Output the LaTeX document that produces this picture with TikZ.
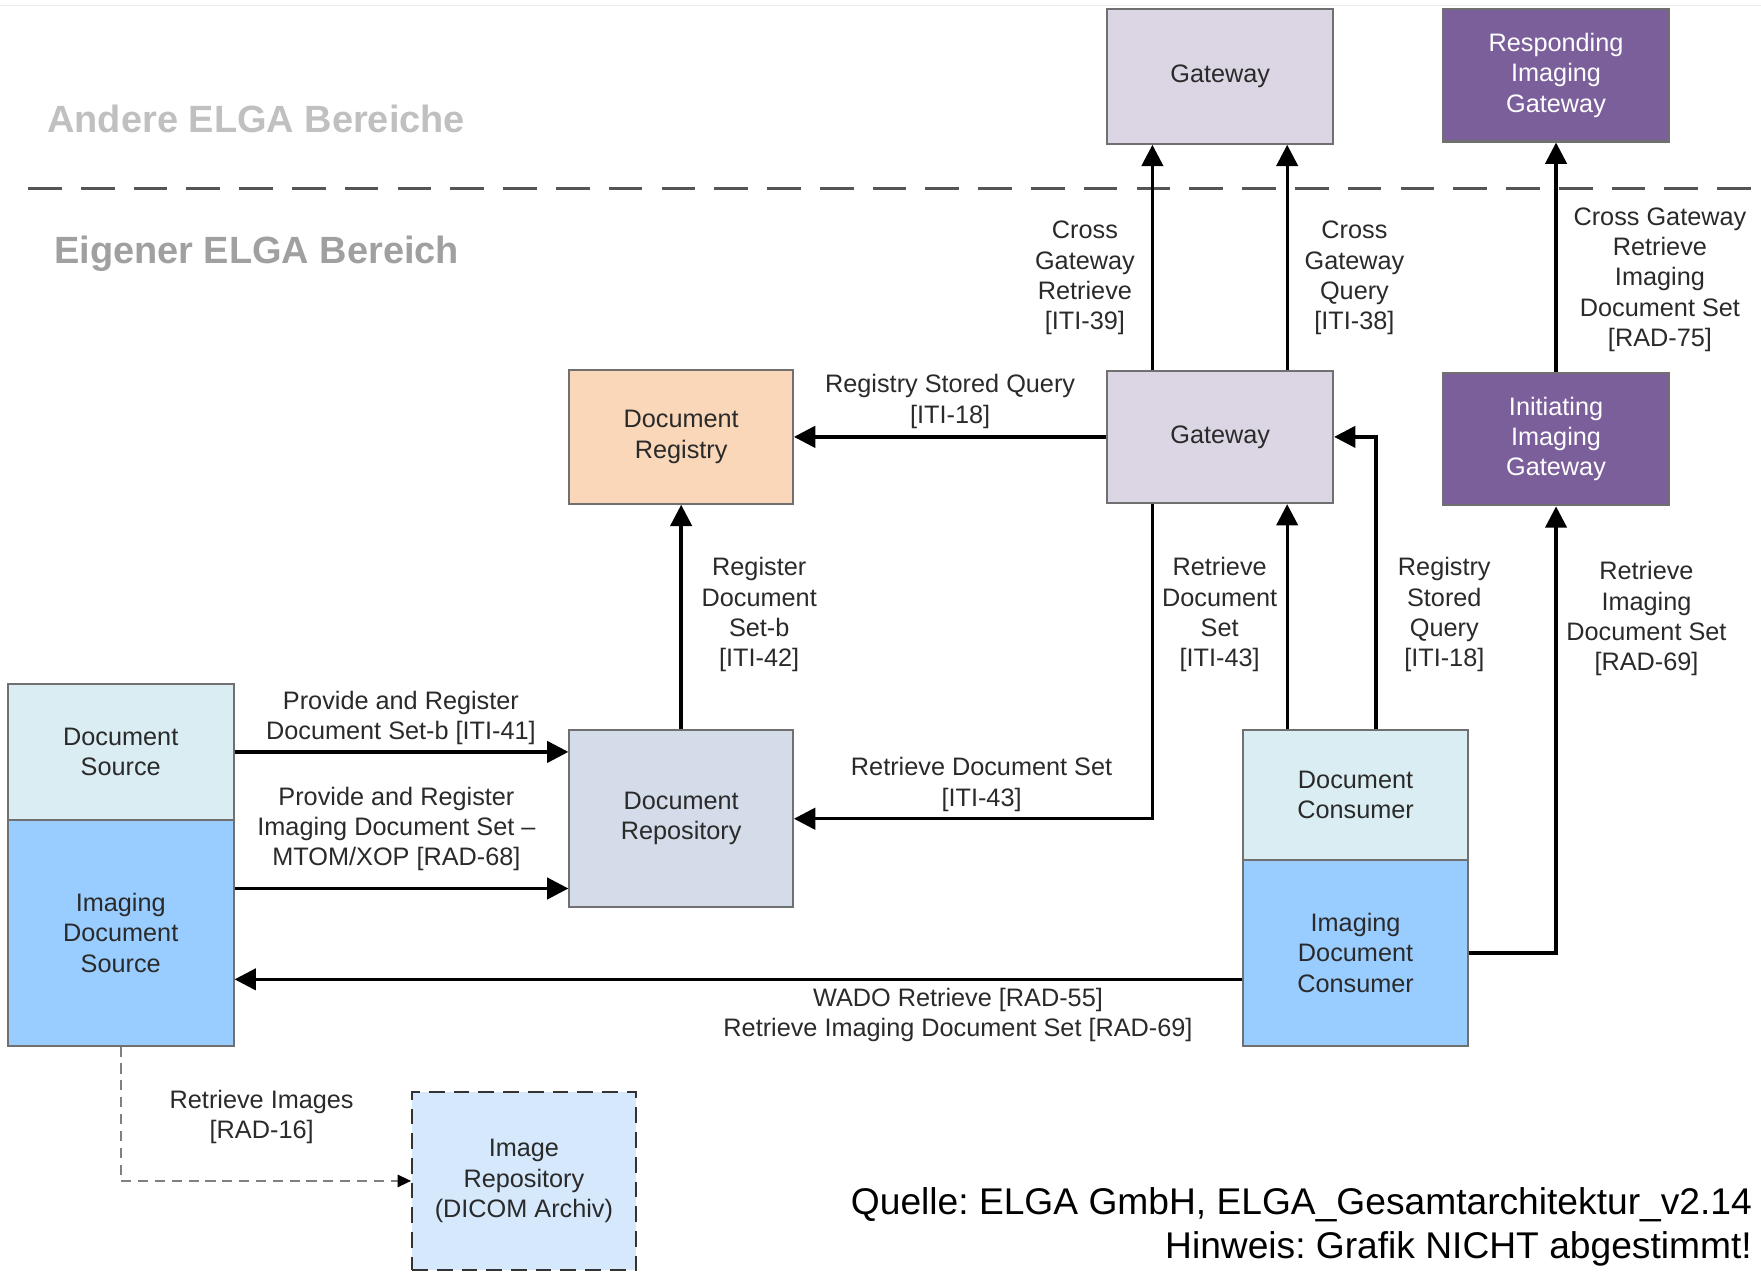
\documentclass[tikz,border=0pt]{standalone}
\usepackage{fontspec}
\setmainfont{Liberation Sans}
\usetikzlibrary{arrows.meta}
\frenchspacing
\definecolor{gwfill}{HTML}{DCD6E4}
\definecolor{purp}{HTML}{7B5F9B}
\definecolor{regfill}{HTML}{FAD7B9}
\definecolor{repofill}{HTML}{D3DCE8}
\definecolor{lightblue}{HTML}{DAEDF2}
\definecolor{midblue}{HTML}{99CCFF}
\definecolor{irfill}{HTML}{D5E8FC}
\definecolor{boxline}{HTML}{707070}
\definecolor{txt}{HTML}{2A2A2A}
\definecolor{hdrA}{HTML}{C0C0C0}
\definecolor{hdrB}{HTML}{A0A0A0}
\definecolor{sepline}{HTML}{555555}
\begin{document}
\begin{tikzpicture}[x=1pt,y=-1pt,
  box/.style={draw=boxline, line width=1.8pt, inner sep=0pt, align=center,
    font=\fontsize{22.5}{27}\selectfont, text=txt},
  pbox/.style={box, fill=purp, text=white},
  lbl/.style={align=center, font=\fontsize{22.5}{27}\selectfont, text=txt, inner sep=0pt},
  hdr/.style={anchor=west, inner sep=0pt, font=\fontsize{33.8}{38}\selectfont\bfseries},
  foot/.style={anchor=east, inner sep=0pt, font=\fontsize{33.1}{38}\selectfont, text=black},
  arr/.style={line width=3pt, -{Triangle[length=19pt,width=19pt]}},
  darr/.style={line width=1.5pt, draw=gray, dash pattern=on 9pt off 6pt,
    -{Triangle[length=12pt,width=11pt,fill=black,color=black]}},
]
\useasboundingbox (0,0) rectangle (1568,1132);

% separators
\coordinate (topL) at (0,5);
\coordinate (topR) at (1568,5);
\draw[line width=1.5pt, color=black!8] (topL) -- (topR);
\coordinate (sepL) at (25,168);
\coordinate (sepR) at (1568,168);
\draw[line width=2.5pt, color=sepline, dash pattern=on 30pt off 17pt] (sepL) -- (sepR);

% headers
\node[hdr, text=hdrA] (hA) at (42,106) {Andere ELGA Bereiche};
\node[hdr, text=hdrB] (hB) at (48,226) {Eigener ELGA Bereich};

% boxes
\node[box, fill=gwfill, minimum width=201pt, minimum height=120pt] (gwT) at (1086.5,68) {Gateway};
\node[pbox, minimum width=201pt, minimum height=118pt] (rig) at (1385.5,67) {Responding\\Imaging\\Gateway};
\node[box, fill=gwfill, minimum width=201pt, minimum height=118pt] (gwM) at (1086.5,389) {Gateway};
\node[pbox, minimum width=201pt, minimum height=118pt] (iig) at (1385.5,391) {Initiating\\Imaging\\Gateway};
\node[box, fill=regfill, minimum width=199pt, minimum height=119pt] (reg) at (606.5,389) {Document\\Registry};
\node[box, fill=repofill, minimum width=199pt, minimum height=158pt] (repo) at (606.5,729) {Document\\Repository};
\node[box, fill=lightblue, minimum width=201pt, minimum height=121pt] (ds) at (107.5,669.5) {Document\\Source};
\node[box, fill=midblue, minimum width=201pt, minimum height=201pt] (ids) at (107.5,830.5) {Imaging\\Document\\Source};
\node[box, fill=lightblue, minimum width=200pt, minimum height=116pt] (dc) at (1207,708) {Document\\Consumer};
\node[box, fill=midblue, minimum width=200pt, minimum height=165pt] (idc) at (1207,848.5) {Imaging\\Document\\Consumer};
\node[box, fill=irfill, draw=black!80, line width=2pt, dash pattern=on 14pt off 8pt,
  minimum width=199pt, minimum height=159pt] (ir) at (466.5,1051.5) {Image\\Repository\\(DICOM Archiv)};

% connectors
\draw[arr] ([xshift=41pt]gwM.north west) -- ([xshift=41pt]gwT.south west);
\draw[arr] ([xshift=161pt]gwM.north west) -- ([xshift=161pt]gwT.south west);
\draw[arr] (iig.north) -- (rig.south);
\draw[arr] (gwM.west) -- (reg.east);
\draw[arr] (repo.north) -- (reg.south);
\draw[arr] ([xshift=41pt]gwM.south west) |- (repo.east);
\draw[arr] ([xshift=40pt]dc.north west) -- ([xshift=161pt]gwM.south west);
\draw[arr] ([xshift=119pt]dc.north west) |- (gwM.east);
\draw[arr] (idc.east) -| (iig.south);
\draw[arr] (ds.east) -- (ds.east -| repo.west);
\draw[arr] ([yshift=-62pt]ids.north east) -- ([yshift=-62pt]ids.north east -| repo.west);
\draw[arr] ([yshift=-23.5pt]idc.west) -- ([yshift=-23.5pt]idc.west -| ids.east);
\draw[darr] (ids.south) |- (ir.west);

% labels
\node[lbl] (l1) at (966,247.5) {Cross\\Gateway\\Retrieve\\{[ITI-39]}};
\node[lbl] (l2) at (1206,247.5) {Cross\\Gateway\\Query\\{[ITI-38]}};
\node[lbl] (l3) at (1478,249) {Cross Gateway\\Retrieve\\Imaging\\Document Set\\{[RAD-75]}};
\node[lbl] (l4) at (846,357.5) {Registry Stored Query\\{[ITI-18]}};
\node[lbl] (l5) at (676,547.5) {Register\\Document\\Set-b\\{[ITI-42]}};
\node[lbl] (l6) at (1086,547.5) {Retrieve\\Document\\Set\\{[ITI-43]}};
\node[lbl] (l7) at (1286,547.5) {Registry\\Stored\\Query\\{[ITI-18]}};
\node[lbl] (l8) at (1466,551) {Retrieve\\Imaging\\Document Set\\{[RAD-69]}};
\node[lbl] (l9) at (874,698.5) {Retrieve Document Set\\{[ITI-43]}};
\node[lbl] (l10) at (357,639.5) {Provide and Register\\Document Set-b [ITI-41]};
\node[lbl] (l11) at (353,738) {Provide and Register\\Imaging Document Set –\\MTOM/XOP [RAD-68]};
\node[lbl] (l12) at (853,903.5) {WADO Retrieve [RAD-55]\\Retrieve Imaging Document Set [RAD-69]};
\node[lbl] (l13) at (233,994.5) {Retrieve Images\\{[RAD-16]}};

% footer
\node[foot] (f1) at (1560,1073) {Quelle: ELGA GmbH, ELGA\_Gesamtarchitektur\_v2.14};
\node[foot] (f2) at (1560,1112) {Hinweis: Grafik NICHT abgestimmt!};
\end{tikzpicture}
\end{document}
